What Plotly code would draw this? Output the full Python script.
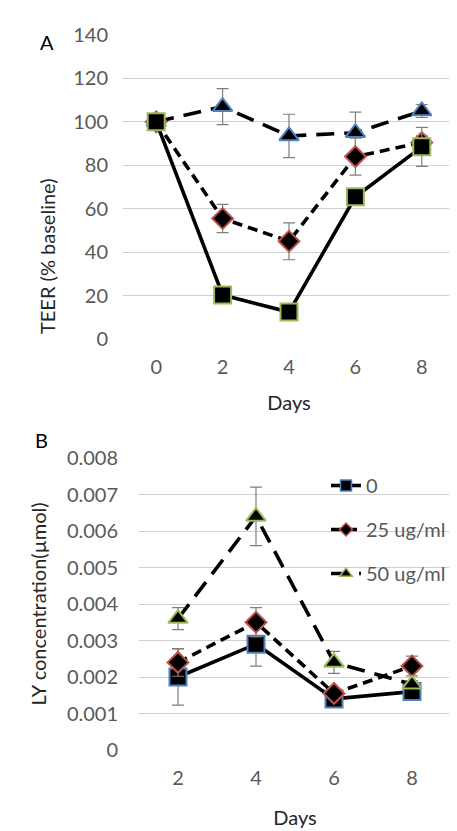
import plotly.graph_objects as go

# ---------------- data ----------------
days_a = [0, 2, 4, 6, 8]
teer_0 = [100, 20.3, 12.4, 65.5, 88.5]
teer_0_err = [1, 2, 2, 3, 9]
teer_25 = [100, 55.5, 45, 84, 90.5]
teer_25_err = [1, 6.5, 8.5, 8.5, 3]
teer_50 = [100, 107, 93.5, 95, 105]
teer_50_err = [1, 8.3, 10, 9.5, 3]

days_b = [2, 4, 6, 8]
ly_0 = [0.0020, 0.0029, 0.0014, 0.0016]
ly_0_err = [0.00077, 0.0006, 0.0001, 0.0001]
ly_25 = [0.0024, 0.0035, 0.00155, 0.0023]
ly_25_err = [0.00038, 0.0004, 0.0001, 0.00027]
ly_50 = [0.0036, 0.0064, 0.0024, 0.0018]
ly_50_err = [0.0003, 0.0008, 0.0003, 0.0001]

series_names = ["0", "25 ug/ml", "50 ug/ml"]
ticks_a_y = [0, 20, 40, 60, 80, 100, 120, 140]
ticks_b_y = [0, 0.001, 0.002, 0.003, 0.004, 0.005, 0.006, 0.007, 0.008]

# ---------------- styling ----------------
W, H = 457, 831
FONT = "Lato"
GRAY = "#595959"
TITLE = "#262626"
GRID = "#d0d0d0"
GREEN = "#9BBB59"
RED = "#C0504D"
BLUE = "#4F81BD"
ERR = "#7f7f7f"
DASH_S = "10px,6px"
DASH_L = "18px,10px"
LW = 3.6


def px_x(p):
    return p / W


def px_y(p):
    return (H - p) / H


fig = go.Figure()


def add(x, y, err, dash, symbol, size, border, xa, ya, name):
    fig.add_trace(go.Scatter(
        x=x, y=y, name=name, xaxis=xa, yaxis=ya,
        mode="lines+markers",
        line=dict(color="black", width=LW, dash=dash),
        marker=dict(symbol=symbol, size=size, color="black",
                    line=dict(color=border, width=2)),
        error_y=dict(type="data", array=err, visible=True, color=ERR,
                     thickness=1.2, width=6),
        showlegend=False,
    ))


def add_legend(dash, symbol, size, border, name, group):
    # legend-only entry (no data points), smaller marker as in the reference legend
    fig.add_trace(go.Scatter(
        x=[None], y=[None], name=name, xaxis="x2", yaxis="y2",
        mode="lines+markers",
        line=dict(color="black", width=LW, dash=dash),
        marker=dict(symbol=symbol, size=size, color="black",
                    line=dict(color=border, width=1.5)),
        showlegend=True, legendgroup=group,
    ))


# Panel A
add(days_a, teer_50, teer_50_err, DASH_L, "triangle-up", 17, BLUE, "x", "y", series_names[2])
add(days_a, teer_25, teer_25_err, DASH_S, "diamond", 16, RED, "x", "y", series_names[1])
add(days_a, teer_0, teer_0_err, "solid", "square", 17, GREEN, "x", "y", series_names[0])

# Panel B
add(days_b, ly_0, ly_0_err, "solid", "square", 17, BLUE, "x2", "y2", series_names[0])
add(days_b, ly_25, ly_25_err, DASH_S, "diamond", 16, RED, "x2", "y2", series_names[1])
add(days_b, ly_50, ly_50_err, DASH_L, "triangle-up", 17, GREEN, "x2", "y2", series_names[2])

add_legend("solid", "square", 11, BLUE, series_names[0], "a")
add_legend(DASH_S, "diamond", 10, RED, series_names[1], "b")
add_legend(DASH_L, "triangle-up", 11, GREEN, series_names[2], "c")

tickfont = dict(family=FONT, size=20, color=GRAY)
titlefont = dict(family=FONT, size=20, color=TITLE)

fig.update_layout(
    width=W, height=H,
    margin=dict(l=0, r=0, t=0, b=0, autoexpand=False),
    paper_bgcolor="white", plot_bgcolor="white",
    font=dict(family=FONT),
    xaxis=dict(domain=[px_x(115), px_x(447)], range=[-1, 9],
               tickvals=days_a, ticktext=[str(d) for d in days_a],
               showgrid=False, zeroline=False, showline=False, automargin=False,
               tickfont=tickfont, ticklabelstandoff=14,
               title=dict(text="Days", font=titlefont, standoff=18),
               anchor="y"),
    yaxis=dict(domain=[px_y(331), px_y(27)], range=[0, 140],
               tickvals=ticks_a_y, showgrid=True, gridcolor=GRID, gridwidth=1.3,
               zeroline=False, showline=False, automargin=False,
               tickfont=tickfont, ticklabelstandoff=14,
               anchor="x"),
    xaxis2=dict(domain=[px_x(131), px_x(443)], range=[1, 9],
                tickvals=days_b, ticktext=[str(d) for d in days_b],
                showgrid=False, zeroline=False, showline=False, automargin=False,
                tickfont=tickfont, ticklabelstandoff=14,
                title=dict(text="Days", font=titlefont, standoff=22),
                anchor="y2"),
    yaxis2=dict(domain=[px_y(742), px_y(450)], range=[0, 0.008],
                tickvals=ticks_b_y, ticktext=[f"{v:g}" if v == 0 else f"{v:.3f}" for v in ticks_b_y],
                showgrid=True, gridcolor=GRID, gridwidth=1.3,
                zeroline=False, showline=False, automargin=False,
                tickfont=tickfont, ticklabelstandoff=20,
                title=dict(text="LY concentration(µmol)", font=titlefont, standoff=14),
                anchor="x2"),
    legend=dict(x=px_x(318), y=px_y(458), xanchor="left", yanchor="top",
                font=dict(family=FONT, size=20, color=GRAY),
                bgcolor="rgba(0,0,0,0)", tracegroupgap=15,
                traceorder="grouped"),
    annotations=[
        dict(text="A", x=px_x(30), y=px_y(20), xref="paper", yref="paper",
             showarrow=False, font=dict(family=FONT, size=20, color="black")),
        dict(text="B", x=px_x(25), y=px_y(432), xref="paper", yref="paper",
             showarrow=False, font=dict(family=FONT, size=20, color="black")),
        dict(text="TEER (% baseline)", x=px_x(25), y=px_y(168), xref="paper", yref="paper",
             textangle=-90, showarrow=False, font=titlefont),
    ],
)

fig.write_html("out.html")
